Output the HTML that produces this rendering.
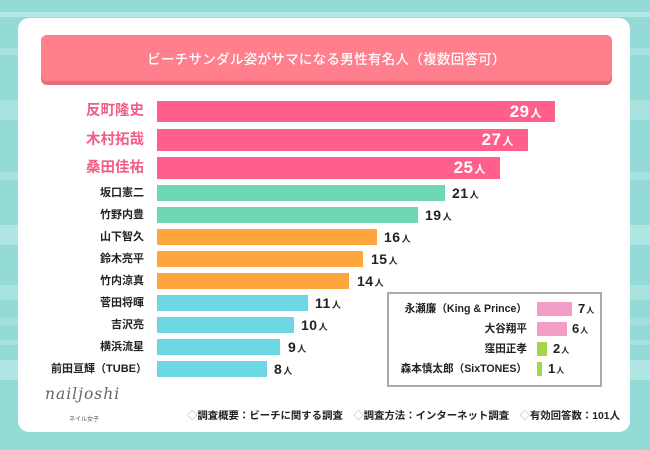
<!DOCTYPE html>
<html><head><meta charset="utf-8">
<style>
*{margin:0;padding:0;box-sizing:border-box}
body{width:650px;height:450px;overflow:hidden;position:relative;font-family:"Liberation Sans","Noto Sans CJK JP",sans-serif;
background:linear-gradient(to bottom,#94dbd7 0,#94dbd7 12px,#b3e8e5 12px,#b3e8e5 17px,#94dbd7 17px,#94dbd7 48px,#a6e2df 48px,#a6e2df 55px,#94dbd7 55px,#94dbd7 100px,#a9e3e0 100px,#a9e3e0 120px,#94dbd7 120px,#94dbd7 172px,#a6e2df 172px,#a6e2df 180px,#94dbd7 180px,#94dbd7 225px,#b0e6e3 225px,#b0e6e3 245px,#94dbd7 245px,#94dbd7 285px,#a9e3e0 285px,#a9e3e0 300px,#94dbd7 300px,#94dbd7 318px,#a3e0dd 318px,#a3e0dd 325px,#94dbd7 325px,#94dbd7 340px,#a6e2df 340px,#a6e2df 345px,#94dbd7 345px,#94dbd7 360px,#b0e6e3 360px,#b0e6e3 380px,#94dbd7 380px,#94dbd7 432px,#94dbd7 432px);}
.card{position:absolute;left:18px;top:18px;width:612px;height:414px;background:#fff;border-radius:11px}
.title{position:absolute;left:41px;top:35px;width:571px;height:50px;background:#e36f7a;border-radius:6px}
.title div{position:absolute;left:0;top:0;width:571px;height:46px;background:#ff7f8c;border-radius:6px;color:#fff;font-family:"Noto Sans CJK JP",sans-serif;font-weight:500;font-size:13.5px;letter-spacing:0.3px;line-height:46px;text-align:center}
.bar{position:absolute;left:157px}
.lab{position:absolute;right:506px;text-align:right;white-space:nowrap;font-family:"Liberation Sans","Noto Sans CJK JP",sans-serif;font-weight:bold;color:#222;font-size:11px}
.lab.big{color:#f25d85;font-size:14.5px}
.val{position:absolute;white-space:nowrap;font-family:"Liberation Sans",sans-serif;font-weight:bold;color:#222;font-size:14px;letter-spacing:0.5px}
.val small{font-family:"Noto Sans CJK JP",sans-serif;font-size:9px;font-weight:bold;margin-left:1px}
.val.in{color:#fff;font-size:17px;text-align:right}
.val.in small{font-size:11px}
.pink{background:#ff5f8a}.green{background:#6fd7b2}.orange{background:#ffa53d}.cyan{background:#6dd7e3}
.legend{position:absolute;left:387px;top:292px;width:215px;height:95px;border:2px solid #aaa;background:#fff}
.ll{position:absolute;right:123px;white-space:nowrap;font-family:"Liberation Sans","Noto Sans CJK JP",sans-serif;font-weight:bold;font-size:10.6px;color:#222}
.lb{position:absolute;left:537px;height:14px}
.lv{position:absolute;white-space:nowrap;font-family:"Liberation Sans",sans-serif;font-weight:bold;font-size:13px;color:#222}
.lv small{font-family:"Noto Sans CJK JP",sans-serif;font-size:8px;margin-left:1px}
.foot{position:absolute;left:187px;top:407px;white-space:nowrap;font-family:"Liberation Sans","Noto Sans CJK JP",sans-serif;font-weight:bold;font-size:10.4px;color:#222}
.foot span{color:#aaa;font-weight:normal}
.logo{position:absolute;left:45px;top:385px;font-family:"DejaVu Serif",serif;font-style:italic;font-size:15.5px;color:#666;letter-spacing:1px}
.logo2{position:absolute;left:69px;top:414px;font-family:"Noto Sans CJK JP",sans-serif;font-size:6px;color:#555}
</style></head><body>
<div class="card"></div>
<div class="title"><div>ビーチサンダル姿がサマになる男性有名人（複数回答可）</div></div>

<div class="bar pink" style="top:101px;width:398px;height:21px"></div>
<div class="lab big" style="top:101px;line-height:21px">反町隆史</div>
<div class="val in" style="right:108px;top:101px;line-height:22px">29<small>人</small></div>

<div class="bar pink" style="top:129px;width:371px;height:22px"></div>
<div class="lab big" style="top:129px;line-height:22px">木村拓哉</div>
<div class="val in" style="right:136px;top:129px;line-height:22px">27<small>人</small></div>

<div class="bar pink" style="top:157px;width:343px;height:22px"></div>
<div class="lab big" style="top:157px;line-height:22px">桑田佳祐</div>
<div class="val in" style="right:164px;top:157px;line-height:22px">25<small>人</small></div>

<div class="bar green" style="top:185px;width:288px;height:16px"></div>
<div class="lab" style="top:185px;line-height:16px">坂口憲二</div>
<div class="val" style="left:452px;top:185px;line-height:17px">21<small>人</small></div>

<div class="bar green" style="top:207px;width:261px;height:16px"></div>
<div class="lab" style="top:207px;line-height:16px">竹野内豊</div>
<div class="val" style="left:425px;top:207px;line-height:17px">19<small>人</small></div>

<div class="bar orange" style="top:229px;width:220px;height:16px"></div>
<div class="lab" style="top:229px;line-height:16px">山下智久</div>
<div class="val" style="left:384px;top:229px;line-height:17px">16<small>人</small></div>

<div class="bar orange" style="top:251px;width:206px;height:16px"></div>
<div class="lab" style="top:251px;line-height:16px">鈴木亮平</div>
<div class="val" style="left:371px;top:251px;line-height:17px">15<small>人</small></div>

<div class="bar orange" style="top:273px;width:192px;height:16px"></div>
<div class="lab" style="top:273px;line-height:16px">竹内涼真</div>
<div class="val" style="left:357px;top:273px;line-height:17px">14<small>人</small></div>

<div class="bar cyan" style="top:295px;width:151px;height:16px"></div>
<div class="lab" style="top:295px;line-height:16px">菅田将暉</div>
<div class="val" style="left:315px;top:295px;line-height:17px">11<small>人</small></div>

<div class="bar cyan" style="top:317px;width:137px;height:16px"></div>
<div class="lab" style="top:317px;line-height:16px">吉沢亮</div>
<div class="val" style="left:301px;top:317px;line-height:17px">10<small>人</small></div>

<div class="bar cyan" style="top:339px;width:123px;height:16px"></div>
<div class="lab" style="top:339px;line-height:16px">横浜流星</div>
<div class="val" style="left:288px;top:339px;line-height:17px">9<small>人</small></div>

<div class="bar cyan" style="top:361px;width:110px;height:16px"></div>
<div class="lab" style="top:361px;line-height:16px;right:503px">前田亘輝（TUBE）</div>
<div class="val" style="left:274px;top:361px;line-height:17px">8<small>人</small></div>

<div class="legend"></div>
<div class="ll" style="top:302px;line-height:14px">永瀬廉（King &amp; Prince）</div>
<div class="lb" style="top:302px;width:35px;background:#f19dc6"></div>
<div class="lv" style="left:578px;top:302px;line-height:14px">7<small>人</small></div>
<div class="ll" style="top:322px;line-height:14px">大谷翔平</div>
<div class="lb" style="top:322px;width:30px;background:#f19dc6"></div>
<div class="lv" style="left:572px;top:322px;line-height:14px">6<small>人</small></div>
<div class="ll" style="top:342px;line-height:14px">窪田正孝</div>
<div class="lb" style="top:342px;width:10px;background:#a5d64a"></div>
<div class="lv" style="left:553px;top:342px;line-height:14px">2<small>人</small></div>
<div class="ll" style="top:362px;line-height:14px">森本慎太郎（SixTONES）</div>
<div class="lb" style="top:362px;width:5px;background:#a5d64a"></div>
<div class="lv" style="left:548px;top:362px;line-height:14px">1<small>人</small></div>

<div class="logo">nailjoshi</div>
<div class="logo2">ネイル女子</div>
<div class="foot"><span>◇</span>調査概要：ビーチに関する調査　<span>◇</span>調査方法：インターネット調査　<span>◇</span>有効回答数：101人</div>
</body></html>
